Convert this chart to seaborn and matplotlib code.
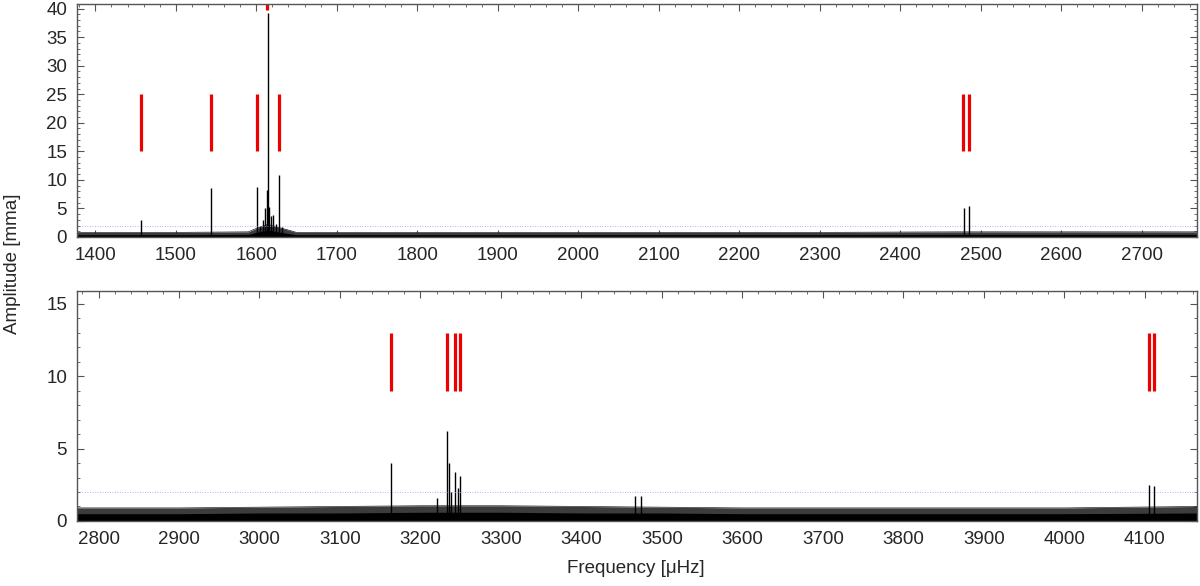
import numpy as np
import pandas as pd
import matplotlib
matplotlib.use("Agg")
import matplotlib.pyplot as plt
from matplotlib.ticker import MultipleLocator
import seaborn as sns

# --- top panel (1377-2769 uHz) ---
top_peak_freq = [1457, 1544, 1601, 1605, 1608, 1611, 1613, 1614, 1616, 1618, 1621, 1624, 1628, 1632, 2479, 2486]
top_peak_amp = [3.0, 8.5, 8.8, 2.0, 3.0, 5.0, 8.2, 39.3, 5.3, 3.6, 3.9, 2.2, 10.9, 1.8, 5.0, 5.4]
top_marks = [1457, 1544, 1601, 1628, 2478, 2486]
top_noise_freq = [1377, 1500, 1590, 1600, 1614, 1635, 1650, 1900, 2100, 2300, 2470, 2490, 2600, 2769]
top_noise_hi = [0.8, 0.8, 0.9, 1.5, 2.2, 1.4, 0.8, 0.8, 0.8, 0.8, 0.9, 0.9, 0.9, 0.9]
top_noise_lo = [0.4, 0.4, 0.45, 0.8, 1.2, 0.7, 0.4, 0.4, 0.4, 0.4, 0.45, 0.45, 0.45, 0.45]

# --- bottom panel (2773-4165 uHz) ---
bot_peak_freq = [3164, 3221, 3233, 3235, 3238, 3243, 3247, 3249, 3466, 3474, 4105, 4111]
bot_peak_amp = [4.0, 1.6, 6.2, 4.0, 2.0, 3.4, 2.3, 3.1, 1.7, 1.7, 2.5, 2.4]
bot_marks = [3164, 3233, 3243, 3249, 4105, 4111]
bot_noise_freq = [2773, 2900, 3000, 3100, 3200, 3300, 3400, 3500, 3600, 3800, 4000, 4165]
bot_noise_hi = [0.9, 0.9, 0.95, 1.0, 1.05, 1.05, 1.0, 0.95, 0.9, 0.9, 0.9, 1.0]
bot_noise_lo = [0.5, 0.5, 0.55, 0.55, 0.6, 0.6, 0.55, 0.55, 0.5, 0.5, 0.5, 0.55]

threshold = 2.0

sns.set_style("ticks")
plt.rcParams["font.family"] = ["Liberation Sans", "DejaVu Sans"]

fig = plt.figure(figsize=(12, 5.86), dpi=100)
ax1 = fig.add_axes([0.064, 0.5956, 0.9336, 0.3971])
ax2 = fig.add_axes([0.064, 0.111, 0.9336, 0.393])


def draw_panel(ax, pf, pa, marks, nf, nhi, nlo, xlim, ylim, mark_lo, mark_hi):
    df = pd.DataFrame({"freq": nf, "hi": nhi, "lo": nlo})
    ax.fill_between(df["freq"], 0, df["hi"], color="#3c3c3c", lw=0)
    ax.fill_between(df["freq"], 0, df["lo"], color="black", lw=0)
    sns.lineplot(data=df, x="freq", y="hi", ax=ax, color="#222222", lw=0.5)
    ax.vlines(pf, 0, pa, color="black", lw=1.0)
    ax.vlines(marks, mark_lo, mark_hi, color="#ee0000", lw=2.3)
    ax.axhline(threshold, color="#9999ee", lw=0.6, ls=(0, (1, 2)))
    ax.set_xlim(*xlim)
    ax.set_ylim(*ylim)
    ax.set_xlabel("")
    ax.set_ylabel("")
    ax.xaxis.set_major_locator(MultipleLocator(100))
    ax.xaxis.set_minor_locator(MultipleLocator(20))
    ax.yaxis.set_major_locator(MultipleLocator(5))
    ax.yaxis.set_minor_locator(MultipleLocator(1))
    ax.tick_params(which="both", direction="in", top=True, right=True,
                   labelsize=13.5, color="#555555")
    ax.tick_params(which="major", length=5, width=0.8, pad=7)
    ax.tick_params(which="minor", length=2.5, width=0.6)
    for s in ax.spines.values():
        s.set_color("#555555")
        s.set_linewidth(1.0)


draw_panel(ax1, top_peak_freq, top_peak_amp, top_marks,
           top_noise_freq, top_noise_hi, top_noise_lo,
           (1377, 2769), (0, 40.75), 15, 25)
# top of the central mark, clipped at the frame
ax1.vlines([1613], 39.8, 50, color="#ee0000", lw=2.3)

draw_panel(ax2, bot_peak_freq, bot_peak_amp, bot_marks,
           bot_noise_freq, bot_noise_hi, bot_noise_lo,
           (2773, 4165), (0, 15.9), 9, 13)

fig.text(0.53, 0.015, "Frequency [\u03bcHz]", ha="center", va="bottom", fontsize=13.5)
fig.text(0.003, 0.55, "Amplitude [mma]", ha="left", va="center", rotation=90, fontsize=13.5)

fig.savefig("out.png", dpi=100)
